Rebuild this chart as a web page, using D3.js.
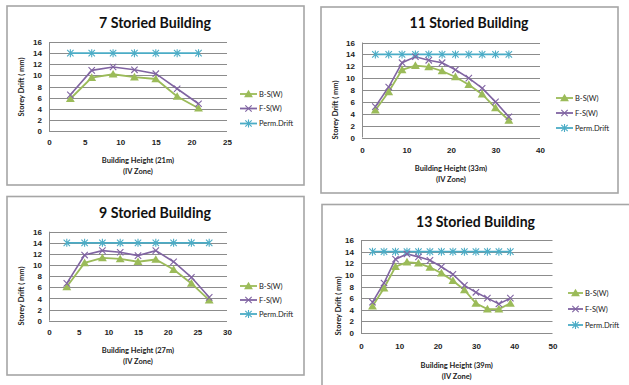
<!DOCTYPE html>
<html>
<head>
<meta charset="utf-8">
<script src="https://cdn.jsdelivr.net/npm/d3@7/dist/d3.min.js"></script>
<style>
  html, body { margin: 0; padding: 0; background: #fff; }
  svg { display: block; font-family: Lato, "Open Sans", "DejaVu Sans", sans-serif; }
</style>
</head>
<body>
<svg id="chart" width="629" height="385"></svg>
<script>
// Storey drift under wind load, IV zone — four building heights
const seriesNames = ["B-S(W)", "F-S(W)", "Perm.Drift"];
const permissibleDrift = 14;
const yTicks = [0, 2, 4, 6, 8, 10, 12, 14, 16];

const heights7 = [3, 6, 9, 12, 15, 18, 21];
const bs7 = [5.8, 9.6, 10.2, 9.7, 9.35, 6.2, 4.1];
const fs7 = [6.5, 10.9, 11.5, 11.0, 10.3, 7.6, 4.9];
const xTicks7 = [0, 5, 10, 15, 20, 25];

const heights11 = [3, 6, 9, 12, 15, 18, 21, 24, 27, 30, 33];
const bs11 = [4.6, 7.7, 11.4, 12.1, 11.9, 11.2, 10.2, 8.9, 7.3, 5.0, 2.9];
const fs11 = [5.2, 8.5, 12.6, 13.6, 13.0, 12.6, 11.4, 10.0, 8.3, 6.0, 3.5];
const xTicks11 = [0, 10, 20, 30, 40];

const heights9 = [3, 6, 9, 12, 15, 18, 21, 24, 27];
const bs9 = [6.1, 10.4, 11.3, 11.1, 10.6, 11.0, 9.2, 6.7, 3.7];
const fs9 = [6.7, 11.8, 12.6, 12.3, 11.7, 12.6, 10.6, 7.8, 4.2];
const xTicks9 = [0, 5, 10, 15, 20, 25, 30];

const heights13 = [3, 6, 9, 12, 15, 18, 21, 24, 27, 30, 33, 36, 39];
const bs13 = [4.6, 7.7, 11.4, 12.2, 12.0, 11.3, 10.3, 9.0, 7.4, 5.1, 4.1, 4.1, 5.1];
const fs13 = [5.3, 8.6, 12.7, 13.6, 13.1, 12.5, 11.4, 10.1, 8.2, 7.0, 6.0, 5.0, 6.0];
const xTicks13 = [0, 10, 20, 30, 40, 50];

const titles = ["7 Storied Building", "11 Storied Building", "9 Storied Building", "13 Storied Building"];
const xTitles = ["Building Height (21m)", "Building Height (33m)", "Building Height (27m)", "Building Height (39m)"];
const zoneLabel = "(IV Zone)";
const yTitle = "Storey Drift ( mm)";

const colors = { bs: "#9bbb59", fs: "#8064a2", perm: "#4bacc6", grid: "#8c8c8c", frame: "#a6a6a6", text: "#222" };

const svg = d3.select("#chart");

// Marker drawers
function triangle(g, x, y, c) {
  g.append("path").attr("d", d3.symbol(d3.symbolTriangle, 34)()).attr("transform", `translate(${x},${y + 0.8})`).attr("fill", c);
}
function cross(g, x, y, c) {
  const r = 3.2;
  g.append("path").attr("d", `M${x - r},${y - r}L${x + r},${y + r}M${x - r},${y + r}L${x + r},${y - r}`).attr("stroke", c).attr("stroke-width", 1.1).attr("fill", "none");
}
function star(g, x, y, c) {
  const r = 3.2;
  g.append("path").attr("d", `M${x - r},${y - r}L${x + r},${y + r}M${x - r},${y + r}L${x + r},${y - r}M${x},${y - r - 0.8}L${x},${y + r + 0.8}`).attr("stroke", c).attr("stroke-width", 1.1).attr("fill", "none");
}

function drawPanel(p) {
  const g = svg.append("g");
  g.append("rect").attr("x", p.frame[0]).attr("y", p.frame[1]).attr("width", p.frame[2]).attr("height", p.frame[3])
    .attr("fill", "#fff").attr("stroke", colors.frame).attr("stroke-width", 1.6);

  const x = d3.scaleLinear().domain([p.xTicks[0], p.xTicks[p.xTicks.length - 1]]).range([p.plot[0], p.plot[1]]);
  const y = d3.scaleLinear().domain([0, 16]).range([p.plot[2], p.plot[3]]);

  // Horizontal gridlines
  g.append("g").selectAll("line").data(yTicks).join("line")
    .attr("x1", x.range()[0]).attr("x2", x.range()[1])
    .attr("y1", d => Math.round(y(d)) + 0.5).attr("y2", d => Math.round(y(d)) + 0.5)
    .attr("stroke", colors.grid).attr("stroke-width", 1);

  // Axes (labels only; the grid carries the lines)
  const yAxis = g.append("g").attr("transform", `translate(${x.range()[0]},0)`)
    .call(d3.axisLeft(y).tickValues(yTicks).tickSize(0).tickPadding(7).tickFormat(d3.format("d")));
  yAxis.select(".domain").attr("stroke", colors.grid).attr("d", `M0.5,${y(0)}V${y(16)}`);
  yAxis.selectAll("text").attr("font-size", 8).attr("fill", colors.text).attr("font-weight", 600);

  const xAxis = g.append("g").attr("transform", `translate(0,${y(0)})`)
    .call(d3.axisBottom(x).tickValues(p.xTicks).tickSize(0).tickPadding(p.xTickPad).tickFormat(d3.format("d")));
  xAxis.select(".domain").remove();
  xAxis.selectAll("text").attr("font-size", 8).attr("fill", colors.text).attr("font-weight", 600);

  // Series lines
  const line = d3.line().x(d => x(d[0])).y(d => y(d[1]));
  const permPts = p.heights.map(h => [h, permissibleDrift]);
  const bsPts = p.heights.map((h, i) => [h, p.bs[i]]);
  const fsPts = p.heights.map((h, i) => [h, p.fs[i]]);

  g.append("path").attr("d", line(permPts)).attr("fill", "none").attr("stroke", colors.perm).attr("stroke-width", 1.8);
  g.append("path").attr("d", line(bsPts)).attr("fill", "none").attr("stroke", colors.bs).attr("stroke-width", 1.8);
  g.append("path").attr("d", line(fsPts)).attr("fill", "none").attr("stroke", colors.fs).attr("stroke-width", 1.6);

  permPts.forEach(d => star(g, x(d[0]), y(d[1]), colors.perm));
  bsPts.forEach(d => triangle(g, x(d[0]), y(d[1]), colors.bs));
  fsPts.forEach(d => cross(g, x(d[0]), y(d[1]), colors.fs));

  // Title
  g.append("text").attr("x", p.title[0]).attr("y", p.title[1]).attr("text-anchor", "middle")
    .attr("font-size", 14.5).attr("font-weight", 700).attr("fill", "#111")
    .attr("textLength", p.title[2]).attr("lengthAdjust", "spacingAndGlyphs").text(p.titleText);

  // Axis titles
  const cx = (p.plot[0] + p.plot[1]) / 2;
  g.append("text").attr("x", cx).attr("y", p.xTitleY).attr("text-anchor", "middle")
    .attr("font-size", 7.5).attr("font-weight", 700).attr("fill", colors.text).text(p.xTitleText);
  g.append("text").attr("x", cx).attr("y", p.xTitleY + 11).attr("text-anchor", "middle")
    .attr("font-size", 7.5).attr("font-weight", 700).attr("fill", colors.text).text(zoneLabel);
  g.append("text").attr("transform", `translate(${p.yTitle[0]},${p.yTitle[1]}) rotate(-90)`).attr("text-anchor", "middle")
    .attr("font-size", 7.5).attr("font-weight", 700).attr("fill", colors.text).text(yTitle);

  // Legend
  const markers = [triangle, cross, star];
  const lineColors = [colors.bs, colors.fs, colors.perm];
  p.legendY.forEach((ly, i) => {
    const [lx0, lx1] = p.legendX;
    g.append("line").attr("x1", lx0).attr("x2", lx1).attr("y1", ly).attr("y2", ly).attr("stroke", lineColors[i]).attr("stroke-width", 1.8);
    markers[i](g, (lx0 + lx1) / 2, ly, lineColors[i]);
    g.append("text").attr("x", lx1 + 2).attr("y", ly).attr("dy", "0.35em")
      .attr("font-size", 7.5).attr("fill", colors.text).text(seriesNames[i]);
  });
}

drawPanel({
  frame: [7, 6, 297, 179], plot: [49, 227, 131, 42], xTicks: xTicks7, xTickPad: 8,
  heights: heights7, bs: bs7, fs: fs7,
  titleText: titles[0], title: [155, 28, 112],
  xTitleText: xTitles[0], xTitleY: 163, yTitle: [24, 87],
  legendX: [240, 257], legendY: [94, 108.5, 123.5]
});
drawPanel({
  frame: [321, 7, 297, 186], plot: [362, 540, 137.5, 42.5], xTicks: xTicks11, xTickPad: 10,
  heights: heights11, bs: bs11, fs: fs11,
  titleText: titles[1], title: [469, 28, 119],
  xTitleText: xTitles[1], xTitleY: 171, yTitle: [338, 110],
  legendX: [556, 573], legendY: [98, 113, 128]
});
drawPanel({
  frame: [7, 196.5, 297, 178.5], plot: [49, 227, 320.7, 231.7], xTicks: xTicks9, xTickPad: 9,
  heights: heights9, bs: bs9, fs: fs9,
  titleText: titles[2], title: [155, 218, 112],
  xTitleText: xTitles[2], xTitleY: 353, yTitle: [24, 296],
  legendX: [240, 257], legendY: [286, 300, 314]
});
drawPanel({
  frame: [322, 204.5, 320, 200], plot: [361, 552.5, 333, 240], xTicks: xTicks13, xTickPad: 10,
  heights: heights13, bs: bs13, fs: fs13,
  titleText: titles[3], title: [475.5, 227, 119],
  xTitleText: xTitles[3], xTitleY: 368, yTitle: [341, 306],
  legendX: [568, 583], legendY: [293, 309, 325]
});
</script>
</body>
</html>
